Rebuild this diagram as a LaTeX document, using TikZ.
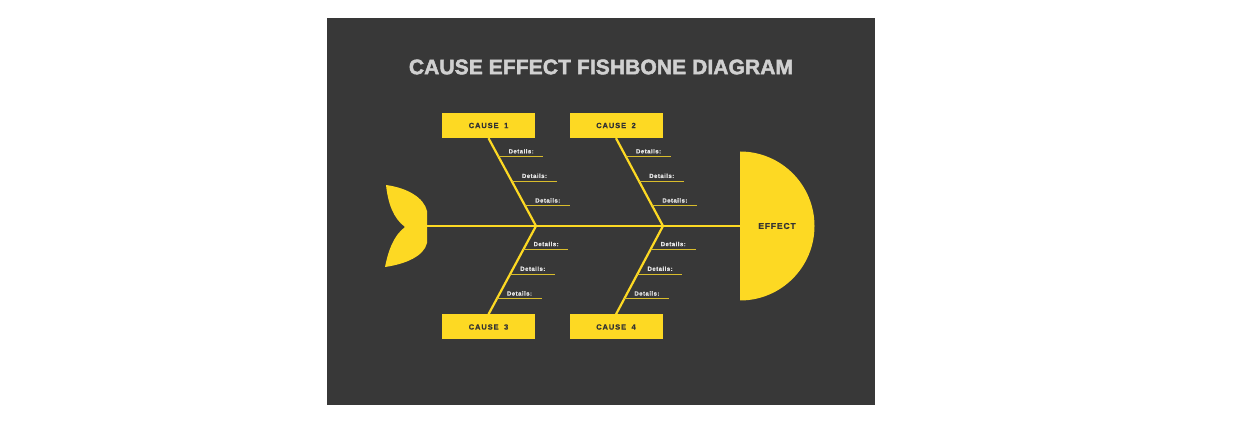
\documentclass[tikz,border=0pt]{standalone}
\usepackage{fontspec}
\setmainfont{Liberation Sans}
\usetikzlibrary{calc}
\definecolor{panel}{HTML}{383838}
\definecolor{fishy}{HTML}{FDD923}
\definecolor{titlegray}{HTML}{D0D0D0}
\definecolor{darktext}{HTML}{333333}
\definecolor{detailtext}{HTML}{E8E8E8}
\definecolor{detailline}{HTML}{D8BC2C}
\begin{document}
\begin{tikzpicture}[x=1pt,y=-1pt,
  causebox/.style={fill=fishy, minimum width=93pt, minimum height=25pt, inner sep=0pt,
    font=\bfseries\fontsize{7.5}{8}\selectfont\addfontfeature{LetterSpace=12,FakeBold=0.6}, text=darktext},
  bone/.style={draw=fishy, line width=2.2pt},
  detline/.style={draw=detailline, line width=1.2pt},
  dettext/.style={font=\bfseries\fontsize{6}{7}\selectfont\addfontfeature{LetterSpace=8,FakeBold=0.5},
    text=detailtext, anchor=south west, inner sep=0pt},
  titletext/.style={font=\bfseries\fontsize{21}{24}\selectfont\addfontfeature{LetterSpace=0.5,FakeBold=2.2}, text=titlegray},
  effecttext/.style={font=\bfseries\fontsize{8.5}{10}\selectfont\addfontfeature{LetterSpace=10,FakeBold=0.8}, text=darktext}
]
\useasboundingbox (0,0) rectangle (1240,430);
\fill[white] (0,0) rectangle (1240,430);
\fill[panel] (327,18) rectangle (875,405);

% title
\node[titletext] (title) at (601,67) {CAUSE EFFECT FISHBONE DIAGRAM};

% tail
\fill[fishy] (386,185) .. controls (408,188) and (424,198) .. (427,211)
  -- (427,243) .. controls (424,256) and (406,264) .. (385,267)
  .. controls (388,252) and (393,236) .. (405,227)
  .. controls (393,218) and (388,203) .. (386,185) -- cycle;
\coordinate (tailR) at (426,226);

% effect head
\coordinate (effL) at (740,226);
\draw[bone] (tailR) -- (effL);
\fill[fishy] (740,151.5) arc[start angle=-90, end angle=90, radius=74.5] -- cycle;
\node[effecttext] (effect) at (777,226) {EFFECT};

% cause boxes
\node[causebox] (c1) at (488.5,125.5) {CAUSE\hspace{2.5pt} 1};
\node[causebox] (c2) at (616,125.5) {CAUSE\hspace{2.5pt} 2};
\node[causebox] (c3) at (488.5,327) {CAUSE\hspace{2.5pt} 3};
\node[causebox] (c4) at (616,327) {CAUSE\hspace{2.5pt} 4};

\coordinate (J1) at (536,226);
\coordinate (J2) at (663,226);

% bones
\draw[bone] (c1.south) -- (J1);
\draw[bone] (c2.south) -- (J2);
\draw[bone] (J1) -- (c3.north);
\draw[bone] (J2) -- (c4.north);

% details on upper bones
\foreach \c/\j in {c1/J1, c2/J2} {
  \foreach \t [count=\i] in {0.21,0.49,0.77} {
    \coordinate (\c a\i) at ($(\c.south)!\t!(\j)$);
    \coordinate (\c b\i) at ($(\c a\i)+(45,0)$);
    \draw[detline] (\c a\i) -- (\c b\i);
    \node[dettext] (\c t\i) at ($(\c a\i)+(10,-3)$) {Details:};
  }
}
% details on lower bones
\foreach \c/\j in {c3/J1, c4/J2} {
  \foreach \t [count=\i] in {0.265,0.545,0.825} {
    \coordinate (\c a\i) at ($(\j)!\t!(\c.north)$);
    \coordinate (\c b\i) at ($(\c a\i)+(45,0)$);
    \draw[detline] (\c a\i) -- (\c b\i);
    \node[dettext] (\c t\i) at ($(\c a\i)+(10,-3)$) {Details:};
  }
}
\end{tikzpicture}
\end{document}
